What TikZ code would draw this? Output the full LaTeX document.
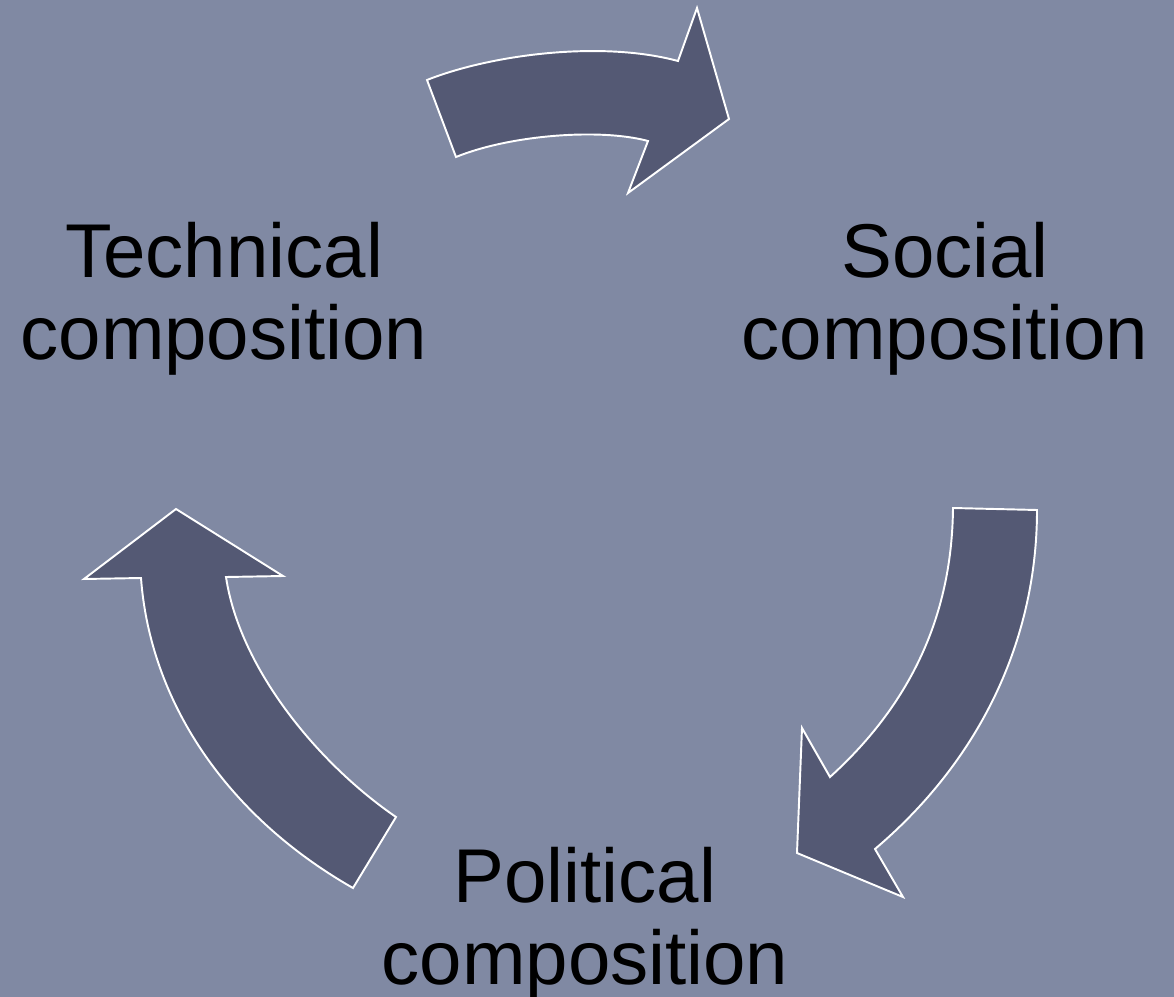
\documentclass[tikz,border=0pt]{standalone}
\usepackage{fontspec}
\setmainfont{Liberation Sans}
\definecolor{bgc}{HTML}{8089A3}
\definecolor{arrc}{HTML}{545974}
\begin{document}
\begin{tikzpicture}[x=0.02cm,y=-0.02cm,
  bigarrow/.style={fill=arrc,draw=white,line width=1.1pt,line join=miter},
  lbl/.style={align=center,inner sep=0pt,font=\fontsize{43.4}{46.5}\selectfont,text=black}]
\fill[bgc] (0,0) rectangle (1174,997);
\useasboundingbox (0,0) rectangle (1174,997);
% top arrow
\draw[bigarrow] (427,80) .. controls (490,55) and (600,40) .. (678,61)
  -- (697,8) -- (729,119) -- (628,193) -- (648,141)
  .. controls (600,128) and (510,135) .. (456,157) -- cycle;
% right arrow
\draw[bigarrow] (953,508) -- (1037,510)
  .. controls (1037,640) and (980,760) .. (875,849)
  -- (903,897) -- (797,853) -- (802,728) -- (830,777)
  .. controls (915,700) and (952,610) .. (953,508) -- cycle;
% left arrow
\draw[bigarrow] (396,817) -- (353,888)
  .. controls (225,815) and (150,700) .. (141,578)
  -- (84,579) -- (176,509) -- (283,576) -- (226,577)
  .. controls (240,670) and (320,765) .. (396,817) -- cycle;
\node[lbl] (tech) at (224,299) {Technical\\composition};
\node[lbl] (soc) at (945,299) {Social\\composition};
\node[lbl] (pol) at (585,924) {Political\\composition};
\end{tikzpicture}
\end{document}
